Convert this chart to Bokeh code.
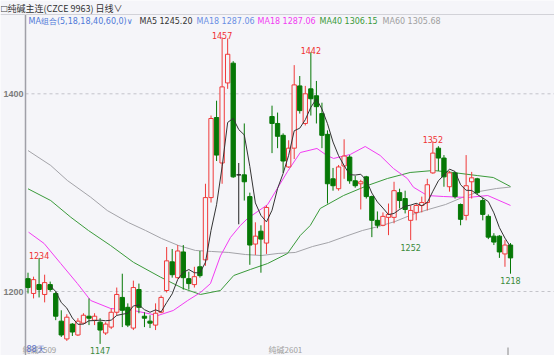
import pandas as pd
from bokeh.plotting import figure
from bokeh.models import Range1d, Label, ColumnDataSource
from bokeh.embed import file_html
from bokeh.resources import INLINE

# ---------------- data ----------------
open_ = [1213, 1198, 1207, 1197, 1207, 1198, 1170, 1152, 1167, 1156,
         1168, 1175, 1171, 1169, 1158, 1164, 1179, 1194, 1184, 1163,
         1202, 1175, 1170, 1166, 1179, 1201, 1230, 1214, 1240, 1213,
         1207, 1225, 1232, 1295, 1376, 1330, 1411, 1431, 1318, 1318,
         1296, 1248, 1261, 1249, 1377, 1370, 1358, 1326, 1345, 1408,
         1370, 1405, 1398, 1380, 1359, 1314, 1304, 1327, 1336, 1312,
         1309, 1316, 1296, 1272, 1267, 1275, 1275, 1300, 1294, 1272,
         1280, 1287, 1290, 1320, 1345, 1335, 1306, 1320, 1288, 1277,
         1311, 1314, 1292, 1276, 1256, 1256, 1238, 1247]
high = [1219, 1215, 1234, 1217, 1210, 1200, 1181, 1177, 1168, 1173,
        1178, 1193, 1178, 1173, 1169, 1183, 1204, 1218, 1188, 1211,
        1208, 1179, 1176, 1188, 1196, 1245, 1243, 1247, 1247, 1220,
        1225, 1241, 1309, 1378, 1393, 1457, 1456, 1433, 1330, 1370,
        1300, 1270, 1267, 1287, 1388, 1381, 1360, 1353, 1429, 1418,
        1408, 1442, 1413, 1391, 1363, 1325, 1328, 1354, 1338, 1317,
        1313, 1317, 1297, 1281, 1280, 1289, 1311, 1304, 1302, 1287,
        1289, 1296, 1314, 1352, 1347, 1338, 1322, 1321, 1289, 1338,
        1321, 1315, 1295, 1278, 1259, 1257, 1252, 1249]
low = [1198, 1193, 1194, 1189, 1200, 1171, 1154, 1150, 1155, 1155,
       1167, 1166, 1166, 1147, 1156, 1162, 1176, 1164, 1164, 1161,
       1178, 1164, 1163, 1161, 1178, 1199, 1214, 1213, 1202, 1202,
       1204, 1214, 1226, 1290, 1332, 1309, 1405, 1315, 1268, 1292,
       1227, 1237, 1219, 1238, 1340, 1345, 1320, 1325, 1334, 1380,
       1368, 1378, 1370, 1345, 1289, 1302, 1302, 1314, 1309, 1305,
       1283, 1294, 1255, 1264, 1266, 1257, 1269, 1284, 1279, 1252,
       1272, 1280, 1282, 1319, 1322, 1306, 1301, 1294, 1267, 1272,
       1294, 1298, 1272, 1253, 1247, 1234, 1225, 1218]
close = [1204, 1212, 1202, 1209, 1202, 1175, 1156, 1174, 1159, 1170,
         1176, 1173, 1175, 1161, 1167, 1179, 1197, 1181, 1166, 1204,
         1184, 1173, 1168, 1178, 1194, 1231, 1217, 1241, 1214, 1208,
         1215, 1216, 1295, 1375, 1338, 1407, 1440, 1316, 1318, 1311,
         1247, 1256, 1253, 1285, 1370, 1357, 1332, 1345, 1409, 1383,
         1400, 1395, 1387, 1358, 1309, 1307, 1326, 1337, 1312, 1307,
         1311, 1296, 1272, 1267, 1276, 1278, 1302, 1292, 1283, 1282,
         1287, 1290, 1308, 1340, 1335, 1316, 1320, 1296, 1273, 1307,
         1315, 1300, 1278, 1255, 1250, 1240, 1247, 1234]

# moving averages that reach back before the visible window
ma18_x = [1.1, 3.9, 6.9, 9.9, 12.3, 15.9, 20.0, 24.4, 27.2, 29.8, 32.1, 33.9,
          35.7, 37.5, 39.3, 40.6, 44.2, 47.8, 50.1, 53.1, 54.9, 56.1, 59.1,
          61.8, 64.5, 66.9, 69.4, 70.5, 73.0, 75.9, 80.3, 83.9, 88.0]
ma18_y = [1260, 1248.6, 1228.3, 1208.1, 1190.9, 1182.8, 1180.8, 1175.7, 1180.8,
          1190.9, 1199, 1208, 1236, 1254.6, 1266.8, 1273.9, 1287.9, 1321.4,
          1340.6, 1344.7, 1337.6, 1334.6, 1338.6, 1346.7, 1337.6, 1324.4,
          1314.3, 1305.5, 1297.1, 1296.1, 1295.1, 1297.1, 1287.06]
ma40_x = [1.0, 5.1, 8.7, 11.9, 15.9, 20.0, 24.9, 29.0, 32.1, 35.7, 38.1, 41.1,
          44.2, 47.8, 50.1, 51.9, 53.7, 57.9, 62.2, 65.8, 69.9, 74.1, 77.2,
          82.0, 84.9, 88.0]
ma40_y = [1303.9, 1292, 1275.2, 1261.7, 1246.5, 1229.6, 1214.5, 1203, 1197,
          1201, 1216.2, 1222.3, 1228.3, 1238.5, 1256.7, 1266.8, 1284, 1297.1,
          1307.2, 1314.3, 1320.4, 1322.4, 1320.7, 1317.3, 1315.3, 1306.15]
ma60_x = [1.0, 5.1, 8.1, 12.3, 15.3, 19.1, 22.2, 25.1, 28.1, 31.2, 34.1, 37.2,
          40.2, 43.1, 46.1, 49.2, 52.3, 55.2, 58.2, 61.3, 64.2, 67.2, 70.3,
          73.2, 76.3, 79.3, 82.4, 85.5, 88.0]
ma60_y = [1342.6, 1327.5, 1312.3, 1295.4, 1281.9, 1269.8, 1261.7, 1253.6,
          1246.6, 1241.5, 1240.5, 1239.5, 1237.4, 1236.4, 1238.5, 1239.5,
          1245.5, 1249.6, 1255.7, 1261.7, 1265.8, 1270.8, 1277.9, 1283,
          1288, 1295.1, 1301.2, 1304.2, 1305.68]

yticks = [1200, 1400]
high_marks = [3, 36, 52, 74]      # candles whose high is annotated
low_marks = [14, 70, 88]          # candles whose low is annotated
legend_texts = ["MA组合(5,18,18,40,60,0)∨", "MA5 1245.20", "MA18 1287.06",
                "MA18 1287.06", "MA40 1306.15", "MA60 1305.68"]
title_text = "纯碱主连(CZCE 9963)"
period_text = "日线∨"
contract_labels = ["纯碱2509", "纯碱2601"]

# ---------------- styling ----------------
BG = "#F5F5F9"
UP = "#F03A3A"
DOWN = "#067806"
DOJI = "#222222"
C_MA5 = "#333333"
C_MA18 = "#F23CF2"
C_MA40 = "#3A9A3A"
C_MA60 = "#A3A3A8"

W, H = 554, 355
AXIS_PX = 25          # px of the price axis line
HEADER_PX = 14        # px of the header separator
STEP = 5.546          # px per candle
X0PX = 27.5           # px of candle 1
PX_PER_UNIT = 0.9885  # px per price unit
Y1400 = 93.3          # px of 1400


def X(px):
    return 1 + (px - X0PX) / STEP


def Y(py):
    return 1400 - (py - Y1400) / PX_PER_UNIT


n = len(close)
idx = list(range(1, n + 1))
ma5 = pd.Series(close).rolling(5).mean()

colors, fills, tops, bottoms = [], [], [], []
for o, c in zip(open_, close):
    if c > o:
        colors.append(UP); fills.append(BG)
    elif c < o:
        colors.append(DOWN); fills.append(DOWN)
    else:
        colors.append(DOJI); fills.append(DOJI)
    tops.append(max(o, c)); bottoms.append(min(o, c))

src = ColumnDataSource(dict(x=idx, o=open_, h=high, l=low, c=close,
                            top=tops, bottom=bottoms, color=colors, fill=fills))

p = figure(width=W, height=H, output_backend="svg", toolbar_location=None,
           x_range=Range1d(X(0), X(W)), y_range=Range1d(Y(H), Y(0)),
           x_axis_location=None, y_axis_location=None,
           min_border_left=0, min_border_top=0, min_border_right=0,
           min_border_bottom=0, background_fill_color=BG, border_fill_color=BG,
           outline_line_color=None)
p.xgrid.visible = False
p.ygrid.visible = False

# dashed price grid lines, starting at the axis
p.segment(x0=[X(AXIS_PX)] * len(yticks), y0=yticks, x1=[X(W)] * len(yticks), y1=yticks,
          line_color="#C4C4CA", line_dash="3 3", line_width=1)
# axis line and header separator
p.segment(x0=[X(AXIS_PX)], y0=[Y(HEADER_PX)], x1=[X(AXIS_PX)], y1=[Y(H)],
          line_color="#A0A0A8", line_width=1.5)
p.segment(x0=[X(0)], y0=[Y(HEADER_PX)], x1=[X(W)], y1=[Y(HEADER_PX)],
          line_color="#D2D2D8", line_width=1)

# price tick labels at the axis
for t in yticks:
    p.add_layout(Label(x=X(AXIS_PX - 2), y=t, text=str(t), text_align="right",
                       text_baseline="middle", text_font="Liberation Sans",
                       text_font_style="bold", text_font_size="9px",
                       text_color="#7C7C7C"))

# moving averages
p.line(ma60_x, ma60_y, line_color=C_MA60, line_width=1)
p.line(ma40_x, ma40_y, line_color=C_MA40, line_width=1)
p.line(ma18_x, ma18_y, line_color=C_MA18, line_width=1)

# candles
p.segment(x0="x", y0="l", x1="x", y1="h", line_color="color", line_width=1, source=src)
p.vbar(x="x", width=0.78, top="top", bottom="bottom", fill_color="fill",
       line_color="color", line_width=1, source=src)

p.line(idx, ma5, line_color=C_MA5, line_width=1)

# high / low annotations
for k in high_marks:
    p.add_layout(Label(x=k, y=high[k - 1] + 2 / PX_PER_UNIT, text=str(high[k - 1]),
                       text_align="center", text_baseline="alphabetic",
                       text_font="DejaVu Sans", text_font_size="8px",
                       text_color="#F03030"))
for k in low_marks:
    p.add_layout(Label(x=k, y=low[k - 1] - 7.0 / PX_PER_UNIT, text=str(low[k - 1]),
                       text_align="center", text_baseline="alphabetic",
                       text_font="DejaVu Sans", text_font_size="8px",
                       text_color="#3A8A3A"))

# header texts
p.add_layout(Label(x=X(0), y=Y(7.5), text="□", text_baseline="middle",
                   text_font="DejaVu Sans", text_font_size="8px", text_color="#444444"))
p.add_layout(Label(x=X(7), y=Y(7.5), text=title_text, text_baseline="middle",
                   text_font="Noto Sans CJK SC", text_font_size="9px", text_color="#333333"))
p.add_layout(Label(x=X(95), y=Y(7.5), text=period_text, text_baseline="middle",
                   text_font="Noto Sans CJK SC", text_font_size="9px", text_color="#333333"))

legend_px = [28, 139, 196, 257, 319, 382]
legend_colors = ["#4F78D8", "#333333", "#6A8FE4", C_MA18, "#3A9A3A", "#A0A0A0"]
for t, xp, col in zip(legend_texts, legend_px, legend_colors):
    p.add_layout(Label(x=X(xp), y=Y(21), text=t, text_baseline="middle",
                       text_font="DejaVu Sans", text_font_size="8px",
                       text_color=col))

# contract change markers at the bottom
p.add_layout(Label(x=X(22), y=Y(349), text=contract_labels[0], text_baseline="middle",
                   text_font="Noto Sans CJK SC", text_font_size="8px", text_color="#A0A0A0"))
p.add_layout(Label(x=X(26), y=Y(349), text="88天", text_baseline="middle",
                   text_font="DejaVu Sans", text_font_size="8px", text_color="#5A6FC8"))
p.add_layout(Label(x=X(268), y=Y(349), text=contract_labels[1], text_baseline="middle",
                   text_font="Noto Sans CJK SC", text_font_size="8px", text_color="#A0A0A0"))
p.segment(x0=[X(507.5)], y0=[Y(347)], x1=[X(507.5)], y1=[Y(H)],
          line_color="#888888", line_width=1)

open("out.html", "w").write(file_html(p, INLINE))
